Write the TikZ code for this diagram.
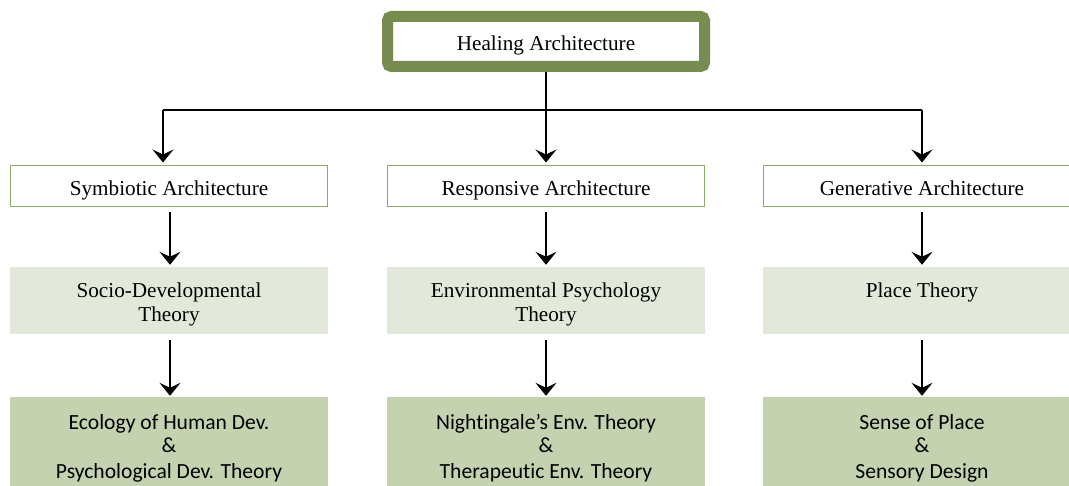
\documentclass[tikz,border=0pt]{standalone}
\usepackage{fontspec}
\setmainfont{Liberation Serif}
\newfontfamily\calib[Ligatures=NoCommon]{Carlito}
\usetikzlibrary{arrows.meta}
\definecolor{topgreen}{HTML}{778D4F}
\definecolor{lvlone}{HTML}{8EAA68}
\definecolor{lvltwo}{HTML}{E3E9DA}
\definecolor{lvlthree}{HTML}{C4D2B0}
\begin{document}
\begin{tikzpicture}[x=1pt,y=-1pt,
  serif/.style={font=\fontsize{21.2}{24}\selectfont, inner sep=0pt, anchor=base, text=black},
  calt/.style={font=\calib\fontsize{21.6}{25}\selectfont, inner sep=0pt, anchor=base, text=black},
  onebox/.style={draw=lvlone, line width=1pt, fill=white, minimum height=41pt, inner sep=0pt},
  twobox/.style={fill=lvltwo, minimum height=67pt, inner sep=0pt},
  threebox/.style={fill=lvlthree, minimum height=93pt, inner sep=0pt},
  tline/.style={line width=1.4pt, black},
  conn/.style={line width=1.3pt, black, -{Stealth[length=13pt,width=21pt,inset=5pt]}}
]
\useasboundingbox (0,0) rectangle (1069,486);
\clip (0,0) rectangle (1069,486);

% top node
\node[draw=topgreen, line width=11pt, rounded corners=4pt, fill=white,
      minimum width=317pt, minimum height=50pt, inner sep=0pt] (top) at (546,41.5) {};
\node[serif] (toptxt) at (546,51) {Healing Architecture};

% level 1
\node[onebox, minimum width=317pt] (s1) at (169,186.5) {};
\node[onebox, minimum width=317pt] (s2) at (546,186.5) {};
\node[onebox, minimum width=312pt] (s3) at (919,186.5) {};
\node[serif] (s1t) at (169,196) {Symbiotic Architecture};
\node[serif] (s2t) at (546,196) {Responsive Architecture};
\node[serif] (s3t) at (922,196) {Generative Architecture};

% level 2
\node[twobox, minimum width=318pt] (p1) at (169,300.5) {};
\node[twobox, minimum width=318pt] (p2) at (546,300.5) {};
\node[twobox, minimum width=312pt] (p3) at (919,300.5) {};
\node[serif] (p1a) at (169,298) {Socio-Developmental};
\node[serif] (p1b) at (169,322) {Theory};
\node[serif] (p2a) at (546,298) {Environmental Psychology};
\node[serif] (p2b) at (546,322) {Theory};
\node[serif] (p3a) at (922,298) {Place Theory};

% level 3
\node[threebox, minimum width=318pt] (q1) at (169,443.5) {};
\node[threebox, minimum width=318pt] (q2) at (546,443.5) {};
\node[threebox, minimum width=312pt] (q3) at (919,443.5) {};
\node[calt] (q1a) at (169,429) {Ecology of Human Dev.};
\node[calt] (q1b) at (169,453) {\&};
\node[calt] (q1c) at (169,478) {Psychological Dev. Theory};
\node[calt] (q2a) at (546,429) {Nightingale’s Env. Theory};
\node[calt] (q2b) at (546,453) {\&};
\node[calt] (q2c) at (546,478) {Therapeutic Env. Theory};
\node[calt] (q3a) at (922,429) {Sense of Place};
\node[calt] (q3b) at (922,453) {\&};
\node[calt] (q3c) at (922,478) {Sensory Design};

% connectors
\coordinate (jL) at (163,110);
\coordinate (jR) at (922,110);
\coordinate (cL) at (170,0);
\coordinate (cR) at (922,0);
\draw[tline] (jL) -- (jR);
\draw[conn, shorten >=3pt] (top.south) -- (top.south |- s2.north);
\draw[conn, shorten >=3pt] (jL) -- (jL |- s1.north);
\draw[conn, shorten >=3pt] (jR) -- (jR |- s3.north);

\draw[conn, shorten <=5pt, shorten >=2pt] (s1.south -| cL) -- (p1.north -| cL);
\draw[conn, shorten <=5pt, shorten >=2pt] (s2.south) -- (p2.north);
\draw[conn, shorten <=5pt, shorten >=2pt] (s3.south -| cR) -- (p3.north -| cR);

\draw[conn, shorten <=6pt, shorten >=1pt] (p1.south -| cL) -- (q1.north -| cL);
\draw[conn, shorten <=6pt, shorten >=1pt] (p2.south) -- (q2.north);
\draw[conn, shorten <=6pt, shorten >=1pt] (p3.south -| cR) -- (q3.north -| cR);
\end{tikzpicture}
\end{document}
